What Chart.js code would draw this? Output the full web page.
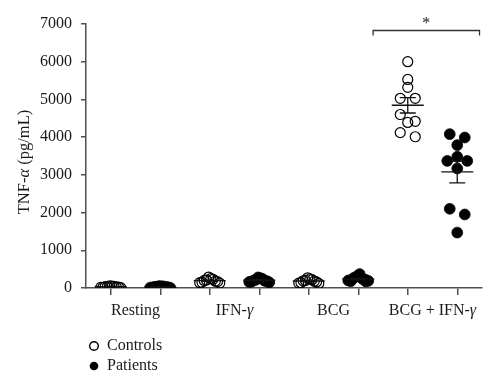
<!DOCTYPE html>
<html><head><meta charset="utf-8">
<script src="https://cdn.jsdelivr.net/npm/chart.js@4"></script>
<style>html,body{margin:0;padding:0;background:#fff}#wrap{width:500px;height:389px}</style>
</head><body><div id="wrap"><canvas id="c" width="500" height="389"></canvas></div>
<script>
// ---------------- data ----------------
const groupLabels = ['Resting', 'IFN-γ', 'BCG', 'BCG + IFN-γ'];
const seriesNames = ['Controls', 'Patients'];
const yTickValues = [0, 1000, 2000, 3000, 4000, 5000, 6000, 7000];
const yTitle = 'TNF-α (pg/mL)';

const controlsResting = [20, 35, 50, 10, 60, 25, 40, 15, 45, 30];
const controlsIFN     = [290, 250, 230, 210, 200, 180, 170, 150, 140, 130];
const controlsBCG     = [270, 240, 220, 200, 190, 180, 160, 140, 130, 120];
const controlsBCGIFN  = [6000, 5530, 5320, 5030, 5030, 4600, 4420, 4390, 4120, 4010];

const patientsResting = [10, 25, 40, 15, 30, 50, 20, 35, 5, 45];
const patientsIFN     = [280, 260, 240, 220, 200, 190, 180, 170, 160, 150];
const patientsBCG     = [370, 310, 270, 240, 220, 210, 200, 190, 180, 175];
const patientsBCGIFN  = [4080, 3990, 3790, 3480, 3370, 3370, 3170, 2100, 1950, 1470];

const significanceLabel = '*';
const significanceGroup = 3;

// ---------------- build ----------------
const controlGroups = [controlsResting, controlsIFN, controlsBCG, controlsBCGIFN];
const patientGroups = [patientsResting, patientsIFN, patientsBCG, patientsBCGIFN];
const seriesGroups = [controlGroups, patientGroups];
const pos = (g, s) => 2 * g + 1 + s;           // slot index on the x axis
const slotTicks = [];
groupLabels.forEach((_, g) => { slotTicks.push(pos(g, 0), pos(g, 1)); });

const toPoints = (groups, s) => groups.flatMap((arr, g) => arr.map(v => ({x: pos(g, s), y: v})));

const FONT = '"Liberation Serif", "Times New Roman", serif';
const TXT = '#1a1a1a';
const AXIS = '#505050';

function drawMixed(ctx, text, x, y, size, align) {
  const parts = text.split(/([\u03b1-\u03c9\u0391-\u03a9])/).filter(p => p.length);
  const fontFor = p => (/[\u03b1-\u03c9\u0391-\u03a9]/.test(p) ? 'italic ' : '') + size + 'px ' + FONT;
  let w = 0;
  parts.forEach(p => { ctx.font = fontFor(p); w += ctx.measureText(p).width; });
  let cx = align === 'center' ? x - w / 2 : (align === 'right' ? x - w : x);
  ctx.textAlign = 'left';
  parts.forEach(p => { ctx.font = fontFor(p); ctx.fillText(p, cx, y); cx += ctx.measureText(p).width; });
}

// place overlapping points side by side (rows of similar value, highest in the middle)
const swarmPlugin = {
  id: 'swarm',
  beforeDatasetsDraw(chart) {
    const xs = chart.scales.x;
    chart.data.datasets.forEach((ds, di) => {
      const meta = chart.getDatasetMeta(di);
      const bySlot = {};
      meta.data.forEach((el, i) => {
        const raw = ds.data[i];
        (bySlot[raw.x] = bySlot[raw.x] || []).push(el);
      });
      Object.keys(bySlot).forEach(k => {
        const els = bySlot[k].slice().sort((a, b) => a.y - b.y);
        const cx = xs.getPixelForValue(Number(k));
        const rows = [];
        els.forEach(el => {
          const r = rows[rows.length - 1];
          if (r && el.y - r[0].y < 7) r.push(el); else rows.push([el]);
        });
        rows.forEach(r => {
          const n = r.length;
          const sp = n > 1 ? Math.min(15, 20 / (n - 1)) : 0;
          const offs = [];
          for (let j = 0; j < n; j++) offs.push((j - (n - 1) / 2) * sp);
          // order slots centre-out, alternating sides
          const order = offs.map((o, j) => j).sort((a, b) => {
            const d = Math.abs(offs[a]) - Math.abs(offs[b]);
            return d !== 0 ? d : (a % 2) - (b % 2);
          });
          r.forEach((el, j) => { el.x = cx + offs[order[j]]; });
        });
      });
    });
  }
};

const statsPlugin = {
  id: 'stats',
  afterDatasetsDraw(chart) {
    const {ctx, scales: {x: xs, y: ys}} = chart;
    ctx.save();
    ctx.strokeStyle = '#111';
    ctx.lineWidth = 1.3;
    seriesGroups.forEach((groups, s) => {
      groups.forEach((arr, g) => {
        const n = arr.length;
        const mean = arr.reduce((a, b) => a + b, 0) / n;
        const sd = Math.sqrt(arr.reduce((a, b) => a + (b - mean) ** 2, 0) / (n - 1));
        const sem = sd / Math.sqrt(n);
        const px = xs.getPixelForValue(pos(g, s));
        const pm = ys.getPixelForValue(mean);
        const pt = ys.getPixelForValue(mean + sem);
        const pb = ys.getPixelForValue(mean - sem);
        ctx.beginPath();
        ctx.moveTo(px - 16, pm); ctx.lineTo(px + 16, pm);
        ctx.moveTo(px, pt); ctx.lineTo(px, pb);
        ctx.moveTo(px - 8, pt); ctx.lineTo(px + 8, pt);
        ctx.moveTo(px - 8, pb); ctx.lineTo(px + 8, pb);
        ctx.stroke();
      });
    });
    ctx.restore();
  }
};

const labelsPlugin = {
  id: 'labels',
  afterDraw(chart) {
    const {ctx, scales: {x: xs, y: ys}, chartArea} = chart;
    ctx.save();
    ctx.fillStyle = TXT;
    ctx.textBaseline = 'middle';
    // group labels
    groupLabels.forEach((lab, g) => {
      drawMixed(ctx, lab, xs.getPixelForValue(pos(g, 0) + 0.5), 311, 16, 'center');
    });
    // y title
    ctx.save();
    ctx.translate(25, 162);
    ctx.rotate(-Math.PI / 2);
    drawMixed(ctx, yTitle, 0, 0, 16.5, 'center');
    ctx.restore();
    // significance bracket
    const bx1 = xs.getPixelForValue(pos(significanceGroup, 0) - 0.7);
    const bx2 = xs.getPixelForValue(pos(significanceGroup, 1) + 0.45);
    const by = chartArea.top + 6.5;
    ctx.strokeStyle = '#333';
    ctx.lineWidth = 1.3;
    ctx.beginPath();
    ctx.moveTo(bx1, by + 5); ctx.lineTo(bx1, by); ctx.lineTo(bx2, by); ctx.lineTo(bx2, by + 5);
    ctx.stroke();
    ctx.textBaseline = 'alphabetic';
    ctx.font = '16px ' + FONT;
    ctx.textAlign = 'center';
    ctx.fillText(significanceLabel, (bx1 + bx2) / 2, by - 3);
    // legend
    ctx.textBaseline = 'middle';
    seriesNames.forEach((name, s) => {
      const ly = 346 + s * 20;
      ctx.beginPath();
      ctx.arc(94, ly, 4.3, 0, Math.PI * 2);
      if (s === 0) { ctx.lineWidth = 1.4; ctx.strokeStyle = '#000'; ctx.stroke(); }
      else { ctx.fillStyle = '#000'; ctx.fill(); }
      ctx.fillStyle = TXT;
      drawMixed(ctx, name, 107, ly, 16, 'left');
    });
    ctx.restore();
  }
};

new Chart(document.getElementById('c'), {
  type: 'scatter',
  data: {
    datasets: [
      {label: seriesNames[0], data: toPoints(controlGroups, 0), pointRadius: 5, pointHoverRadius: 5,
       pointBorderWidth: 1.2, pointBackgroundColor: 'rgba(0,0,0,0)', pointBorderColor: '#000'},
      {label: seriesNames[1], data: toPoints(patientGroups, 1), pointRadius: 5.4, pointHoverRadius: 5.4,
       pointBorderWidth: 0.8, pointBackgroundColor: '#000', pointBorderColor: '#000'}
    ]
  },
  options: {
    responsive: false, animation: false, events: [],
    layout: {padding: {top: 24, right: 18, left: 0, bottom: 0}},
    plugins: {legend: {display: false}, tooltip: {enabled: false}},
    scales: {
      x: {
        type: 'linear', min: 0.5, max: 8.5,
        afterBuildTicks: s => { s.ticks = slotTicks.map(v => ({value: v})); },
        ticks: {callback: () => '', font: {size: 1}},
        grid: {drawOnChartArea: false, drawTicks: true, tickLength: 7, color: AXIS, lineWidth: 1.5},
        border: {color: AXIS, width: 1.5},
        afterFit: s => { s.height = 101; }
      },
      y: {
        type: 'linear', min: 0, max: 7000,
        afterBuildTicks: s => { s.ticks = yTickValues.map(v => ({value: v})); },
        ticks: {font: {family: FONT, size: 16}, color: TXT, padding: 9, callback: v => String(v)},
        grid: {drawOnChartArea: false, drawTicks: true, tickLength: 5, color: AXIS, lineWidth: 1.5},
        border: {color: AXIS, width: 1.5},
        afterFit: s => { s.width = 86; }
      }
    }
  },
  plugins: [swarmPlugin, statsPlugin, labelsPlugin]
});
</script>
</body></html>
